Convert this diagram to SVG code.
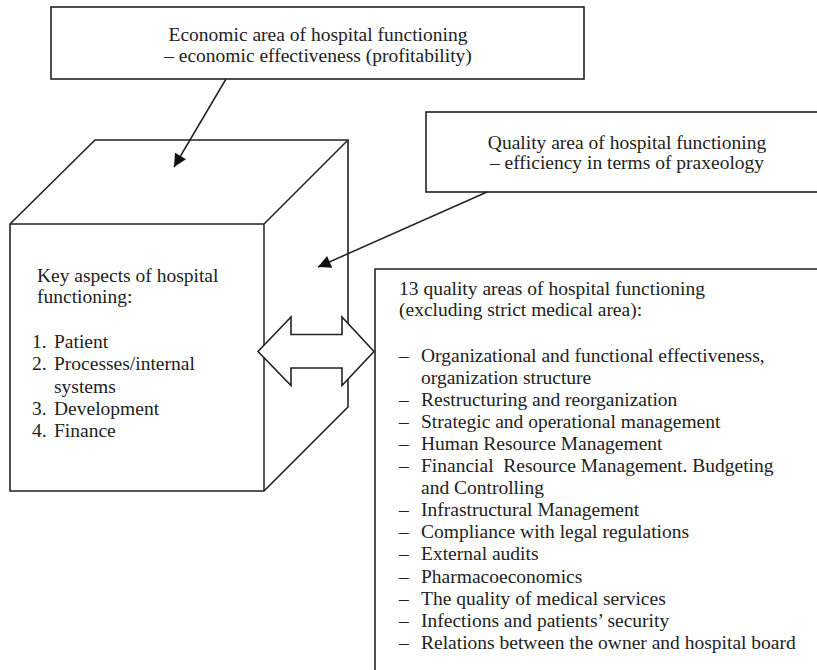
<svg xmlns="http://www.w3.org/2000/svg" width="817" height="670" viewBox="0 0 817 670">
<defs>
<style>
.box{fill:#fff;stroke:#222;stroke-width:1.6}
.ln{fill:none;stroke:#222;stroke-width:1.5}
.t{font-family:"Liberation Serif","Times New Roman",serif;font-size:19.5px;fill:#222}
.c{text-anchor:middle}
</style>
<marker id="ah" viewBox="0 0 10 10" refX="10" refY="5" markerWidth="11" markerHeight="8.5" markerUnits="strokeWidth" orient="auto">
<path d="M0,0 L10,5 L0,10 z" fill="#111"/>
</marker>
</defs>
<rect width="817" height="670" fill="#fff"/>
<g id="economic">
<rect class="box" x="51" y="7" width="533" height="72"/>
<text class="t c" x="318" y="41">Economic area of hospital functioning</text>
<text class="t c" x="318" y="62">– economic effectiveness (profitability)</text>
</g>
<g id="quality">
<rect class="box" x="426" y="112" width="410" height="80"/>
<text class="t c" x="627" y="148.5">Quality area of hospital functioning</text>
<text class="t c" x="627" y="169">– efficiency in terms of praxeology</text>
</g>
<g id="cube">
<path class="box" d="M10,224 L95,140 L348,140 L348,407 L264,491 L10,491 Z"/>
<path class="ln" d="M10,224 L264,224 L264,491 M264,224 L348,140"/>
<text class="t" x="37" y="282">Key aspects of hospital</text>
<text class="t" x="37" y="303">functioning:</text>
<text class="t" x="32" y="348">1.</text><text class="t" x="54" y="348">Patient</text>
<text class="t" x="32" y="370">2.</text><text class="t" x="54" y="370">Processes/internal</text>
<text class="t" x="54" y="392.5">systems</text>
<text class="t" x="32" y="415">3.</text><text class="t" x="54" y="415">Development</text>
<text class="t" x="32" y="437">4.</text><text class="t" x="54" y="437">Finance</text>
</g>
<g id="areas">
<path class="box" d="M375,670 L375,269 L830,269 L830,680"/>
<text class="t" x="399" y="295">13 quality areas of hospital functioning</text>
<text class="t" x="399" y="316">(excluding strict medical area):</text>
<g class="t">
<text x="399" y="361.5">–</text><text x="421" y="361.5">Organizational and functional effectiveness,</text>
<text x="421" y="383.6">organization structure</text>
<text x="399" y="405.7">–</text><text x="421" y="405.7">Restructuring and reorganization</text>
<text x="399" y="427.8">–</text><text x="421" y="427.8">Strategic and operational management</text>
<text x="399" y="449.9">–</text><text x="421" y="449.9">Human Resource Management</text>
<text x="399" y="472">–</text><text x="421" y="472" xml:space="preserve">Financial  Resource Management. Budgeting</text>
<text x="421" y="494.1">and Controlling</text>
<text x="399" y="516.2">–</text><text x="421" y="516.2">Infrastructural Management</text>
<text x="399" y="538.3">–</text><text x="421" y="538.3">Compliance with legal regulations</text>
<text x="399" y="560.4">–</text><text x="421" y="560.4">External audits</text>
<text x="399" y="582.5">–</text><text x="421" y="582.5">Pharmacoeconomics</text>
<text x="399" y="604.6">–</text><text x="421" y="604.6">The quality of medical services</text>
<text x="399" y="626.7">–</text><text x="421" y="626.7">Infections and patients’ security</text>
<text x="399" y="648.8">–</text><text x="421" y="648.8">Relations between the owner and hospital board</text>
</g>
</g>
<g id="connectors">
<line class="ln" x1="226" y1="79" x2="174" y2="167" marker-end="url(#ah)"/>
<line class="ln" x1="487" y1="192" x2="318" y2="267" marker-end="url(#ah)"/>
<path class="box" d="M258,351.5 L291,317 L291,334.5 L342,334.5 L342,317 L374,351.5 L342,385.5 L342,368 L291,368 L291,385.5 Z"/>
</g>
</svg>
